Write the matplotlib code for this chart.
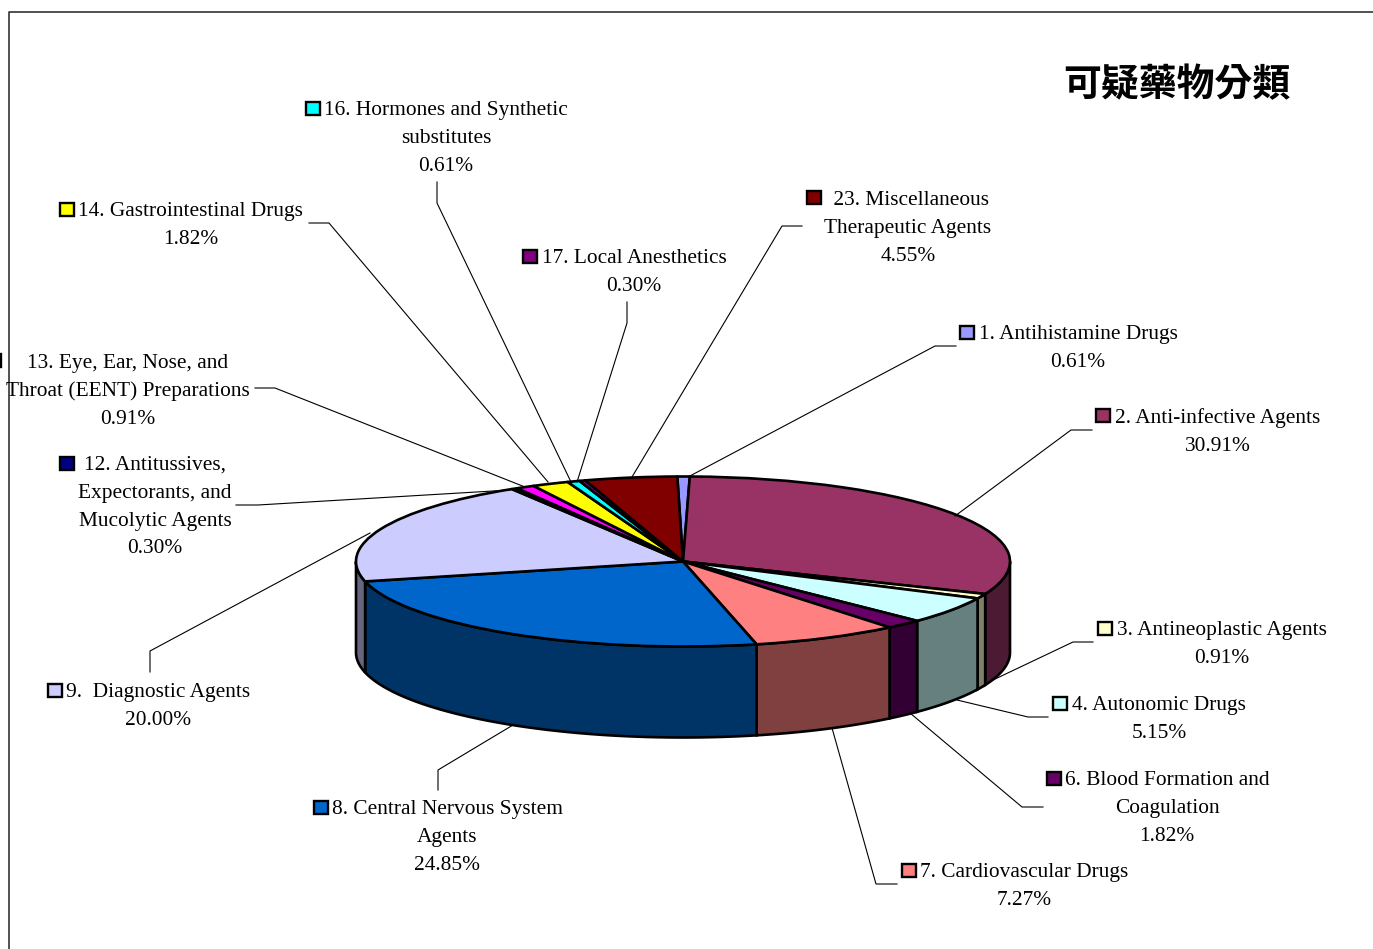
import numpy as np
import matplotlib
matplotlib.use("Agg")
import matplotlib.pyplot as plt
from matplotlib.patches import Rectangle

W, H = 1373, 949

# ---------- data ----------
values = [0.61, 30.91, 0.91, 5.15, 1.82, 7.27, 24.85, 20.00, 0.30, 0.91, 1.82, 0.61, 0.30, 4.55]
names = [
    "1. Antihistamine Drugs", "2. Anti-infective Agents", "3. Antineoplastic Agents",
    "4. Autonomic Drugs", "6. Blood Formation and\nCoagulation", "7. Cardiovascular Drugs",
    "8. Central Nervous System\nAgents", "9.  Diagnostic Agents",
    "12. Antitussives,\nExpectorants, and\nMucolytic Agents",
    "13. Eye, Ear, Nose, and\nThroat (EENT) Preparations", "14. Gastrointestinal Drugs",
    "16. Hormones and Synthetic\nsubstitutes", "17. Local Anesthetics",
    " 23. Miscellaneous\nTherapeutic Agents",
]
colors = ["#9999FF", "#993366", "#FFFFCC", "#CCFFFF", "#660066", "#FF8080", "#0066CC",
          "#CCCCFF", "#000080", "#FF00FF", "#FFFF00", "#00FFFF", "#800080", "#800000"]
title = "可疑藥物分類"

# ---------- layout (pixels) ----------
label_cx = [1078, 1218, 1222, 1159, 1167, 1024, 447, 158, 155, 128, 190.5, 446, 634, 908]
label_y0 = [332, 416, 628, 703, 778, 870, 807, 690, 463, 361, 209, 108, 256, 198]
key_xy = [(959, 325), (1095, 408), (1097, 621), (1052, 696), (1046, 771), (901, 863), (313, 800),
          (47, 683), (59, 456), (-14, 353), (59, 202), (305, 101), (522, 249), (806, 190)]
leaders = [
    [(956, 346), (935, 346), (688, 477)], [(1092, 430), (1071, 430), (955, 516)],
    [(1093, 642), (1073, 642), (993, 680)], [(1048, 717), (1028, 717), (957, 700)],
    [(1043, 807), (1022, 807), (910, 713)], [(897, 884), (876, 884), (832, 728)],
    [(438, 790), (438, 770), (513, 725)], [(150, 672), (150, 651), (370, 533)],
    [(236, 505), (258, 505), (510, 490)], [(255, 388), (275, 388), (525, 487)],
    [(309, 223), (329, 223), (548, 482)], [(437, 182), (437, 203), (571, 482)],
    [(627, 302), (627, 323), (577, 482)], [(802, 226), (782, 226), (632, 477)],
]
LINE = 27.8
cx, cy, rx, ry, depth = 683, 561.5, 327, 85, 91
ROT = 1.0   # degrees the pie is turned anticlockwise from 12 o'clock
EDGE = 1.9

fig = plt.figure(figsize=(W / 100, H / 100), dpi=100, facecolor="white")

# pixel-coordinate overlay
ov = fig.add_axes([0, 0, 1, 1], zorder=3)
ov.set_xlim(0, W)
ov.set_ylim(H, 0)
ov.axis("off")
ov.patch.set_alpha(0)

# pie axes: the unit circle maps on to the top ellipse
pa = fig.add_axes([(cx - rx) / W, 1 - (cy + ry) / H, 2 * rx / W, 2 * ry / H], zorder=2)
edge = dict(edgecolor="black", linewidth=EDGE, joinstyle="round")
pa.pie(values, colors=colors, startangle=90 + ROT, counterclock=False, radius=1, wedgeprops=edge)
pa.set_aspect("auto")
pa.set_xlim(-1, 1)
pa.set_ylim(-1, 1)
pa.axis("off")
for w in pa.patches:
    w.set_clip_on(False)
    w.set_zorder(3)

# side wall of the near half of the pie
d = depth / ry
total = sum(values)
start = 0.0
for v, c in zip(values, colors):
    a0, a1 = start / total * 360 - ROT, (start + v) / total * 360 - ROT
    start += v
    lo, hi = max(a0, 90), min(a1, 270)
    if hi <= lo:
        continue
    t = np.radians(np.linspace(lo, hi, 80))
    x, y = np.sin(t), np.cos(t)
    px = np.r_[x, x[::-1]]
    py = np.r_[y, y[::-1] - d]
    rgb = np.array(matplotlib.colors.to_rgb(c)) / 2
    pa.fill(px, py, facecolor=rgb, edgecolor="black", linewidth=EDGE, clip_on=False, zorder=2)

# frame
ov.plot([9, 9, W], [H, 12, 12], color="#222222", lw=1.1, solid_capstyle="butt", clip_on=False)

font = ["Liberation Serif", "DejaVu Serif"]
for name, v, c, lx, ly, k, seg in zip(names, values, colors, label_cx, label_y0, key_xy, leaders):
    lines = name.split("\n") + [f"{v:.2f}%"]
    for i, s in enumerate(lines):
        ov.text(lx, ly + i * LINE + 7, s, ha="center", va="baseline", family=font,
                fontsize=15.4, color="black")
    ov.add_patch(Rectangle((k[0] + 1, k[1] + 1), 13.5, 13, facecolor=c, edgecolor="black", lw=1.7))
    xs, ys = zip(*seg)
    ov.plot(xs, ys, color="black", lw=0.8, solid_joinstyle="miter")

ov.text(1177, 85, title, ha="center", va="center", family=["Noto Sans CJK TC", "DejaVu Sans"],
        fontsize=27.3, fontweight="bold", color="black")

fig.savefig("out.png", dpi=100)
